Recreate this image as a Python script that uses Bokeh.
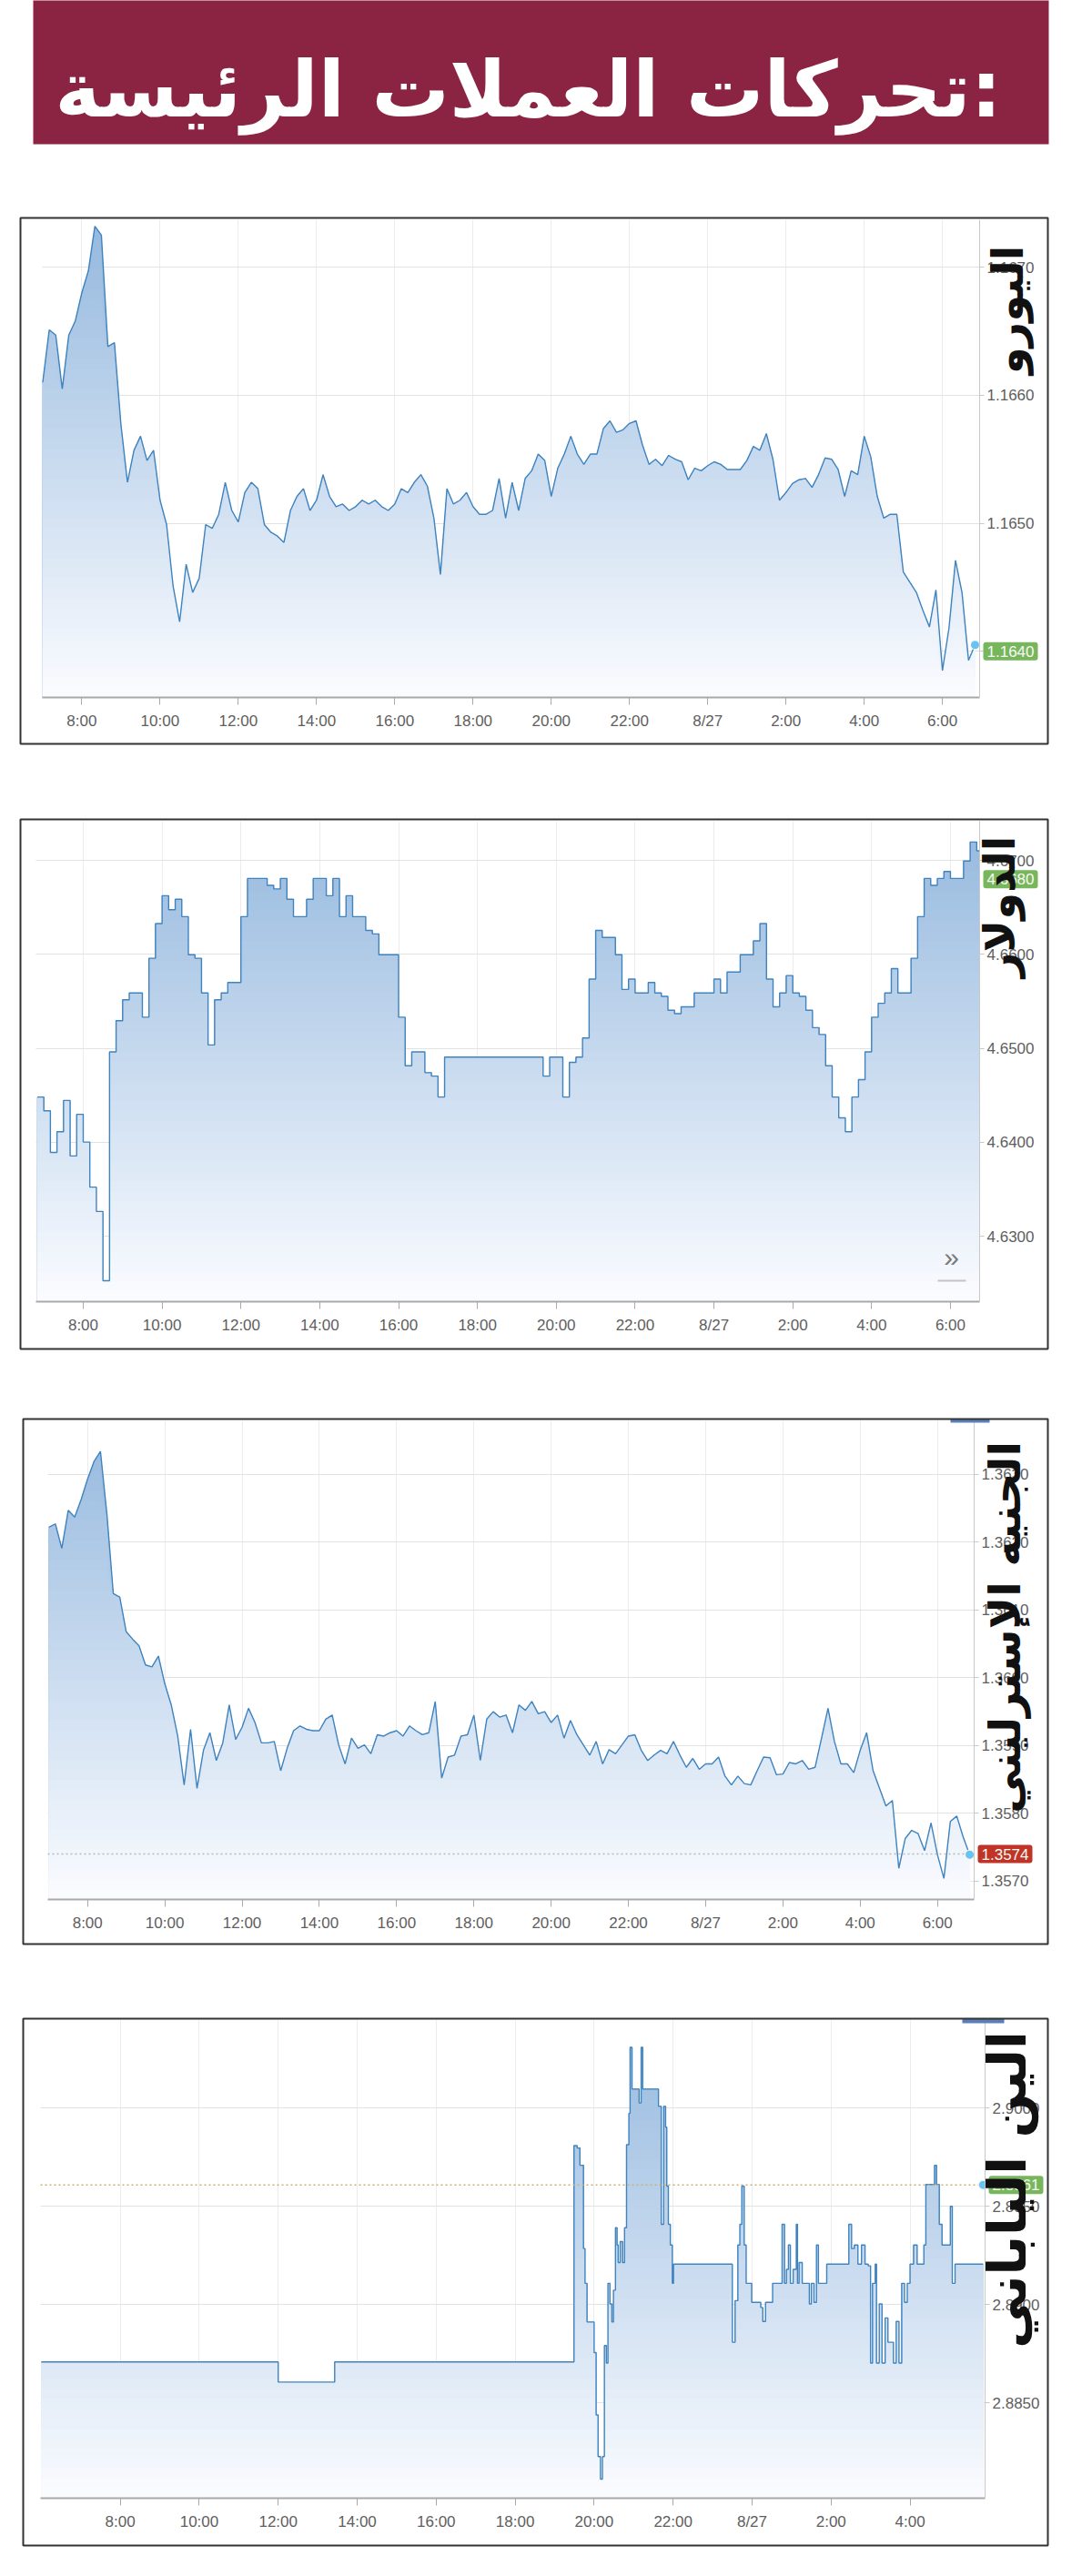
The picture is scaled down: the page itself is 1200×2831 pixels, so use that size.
import math
import numpy as np
from bokeh.plotting import figure
from bokeh.layouts import column
from bokeh.models import FixedTicker, PrintfTickFormatter, Label, BoxAnnotation, Range1d
from bokeh.embed import file_html
from bokeh.resources import INLINE

# ---------------- data ----------------
TITLE = "تحركات العملات الرئيسة:"
NAMES = ["اليورو", "الدولار", "الجنيه الإسترليني", "الين الياباني"]

X_TICKS = [8, 10, 12, 14, 16, 18, 20, 22, 24, 26, 28, 30]
X_LABELS = ["8:00", "10:00", "12:00", "14:00", "16:00", "18:00", "20:00",
            "22:00", "8/27", "2:00", "4:00", "6:00"]

# Euro: 10-minute samples starting 7:00 (8/26)
EUR_START_H = 7.0
EUR = [1.16610, 1.16651, 1.16647, 1.16605, 1.16647, 1.16658, 1.16680, 1.16697, 1.16732, 1.16725,
       1.16638, 1.16641, 1.16577, 1.16532, 1.16557, 1.16568, 1.16549, 1.16557, 1.16518, 1.16499,
       1.16451, 1.16423, 1.16468, 1.16446, 1.16457, 1.16499, 1.16496, 1.16507, 1.16532, 1.16510,
       1.16501, 1.16524, 1.16532, 1.16527, 1.16499, 1.16493, 1.16490, 1.16485, 1.16510, 1.16521,
       1.16527, 1.16510, 1.16518, 1.16538, 1.16521, 1.16513, 1.16515, 1.16510, 1.16513, 1.16518,
       1.16515, 1.16518, 1.16513, 1.16510, 1.16515, 1.16527, 1.16524, 1.16532, 1.16538, 1.16529,
       1.16504, 1.16460, 1.16527, 1.16515, 1.16518, 1.16524, 1.16513, 1.16507, 1.16507, 1.16510,
       1.16535, 1.16504, 1.16532, 1.16510, 1.16535, 1.16541, 1.16554, 1.16549, 1.16521, 1.16543,
       1.16554, 1.16568, 1.16554, 1.16546, 1.16554, 1.16554, 1.16574, 1.16580, 1.16571, 1.16573,
       1.16578, 1.16580, 1.16561, 1.16546, 1.16550, 1.16545, 1.16553, 1.16550, 1.16548, 1.16534,
       1.16543, 1.16541, 1.16545, 1.16548, 1.16546, 1.16542, 1.16542, 1.16542, 1.16549, 1.16560,
       1.16557, 1.16570, 1.16550, 1.16518, 1.16524, 1.16531, 1.16534, 1.16535, 1.16528, 1.16538,
       1.16551, 1.16550, 1.16542, 1.16521, 1.16541, 1.16538, 1.16568, 1.16552, 1.16521, 1.16504,
       1.16507, 1.16507, 1.16462, 1.16454, 1.16446, 1.16432, 1.16419, 1.16448, 1.16385, 1.16418,
       1.16471, 1.16446, 1.16393, 1.16405]
EUR_YTICKS = [1.1640, 1.1650, 1.1660, 1.1670]
EUR_LAST = 1.1640

# Dollar: 10-minute samples starting 6:50 (8/26)
USD_START_H = 6 + 50 / 60
USD = [4.64483, 4.64336, 4.63893, 4.64114, 4.64446, 4.63856, 4.64299, 4.64004, 4.63524, 4.63266,
       4.62528, 4.64963, 4.65295, 4.65517, 4.65590, 4.65590, 4.65332, 4.65959, 4.66328, 4.66624,
       4.66476, 4.66587, 4.66402, 4.65996, 4.65959, 4.65590, 4.65037, 4.65517, 4.65590, 4.65701,
       4.65701, 4.66402, 4.66808, 4.66808, 4.66808, 4.66734, 4.66697, 4.66808, 4.66587, 4.66402,
       4.66402, 4.66587, 4.66808, 4.66808, 4.66624, 4.66808, 4.66402, 4.66624, 4.66402, 4.66402,
       4.66255, 4.66218, 4.65996, 4.65996, 4.65996, 4.65332, 4.64815, 4.64963, 4.64963, 4.64742,
       4.64705, 4.64483, 4.64908, 4.64908, 4.64908, 4.64908, 4.64908, 4.64908, 4.64908, 4.64908,
       4.64908, 4.64908, 4.64908, 4.64908, 4.64908, 4.64908, 4.64908, 4.64705, 4.64908, 4.64908,
       4.64483, 4.64852, 4.64908, 4.65111, 4.65738, 4.66255, 4.66181, 4.66181, 4.65996, 4.65627,
       4.65738, 4.65590, 4.65590, 4.65701, 4.65590, 4.65554, 4.65406, 4.65369, 4.65443, 4.65443,
       4.65590, 4.65590, 4.65590, 4.65738, 4.65590, 4.65812, 4.65812, 4.65996, 4.65996, 4.66144,
       4.66328, 4.65738, 4.65443, 4.65590, 4.65775, 4.65590, 4.65554, 4.65406, 4.65221, 4.65148,
       4.64815, 4.64483, 4.64262, 4.64114, 4.64483, 4.64668, 4.64963, 4.65332, 4.65480, 4.65590,
       4.65849, 4.65590, 4.65590, 4.65959, 4.66402, 4.66808, 4.66734, 4.66808, 4.66882, 4.66808,
       4.66808, 4.66993, 4.67196, 4.67103]
USD_YTICKS = [4.63, 4.64, 4.65, 4.66, 4.67]
USD_LAST = 4.6680

# Sterling: 10-minute samples starting 7:00 (8/26)
GBP_START_H = 7.0
GBP = [1.36222, 1.36227, 1.36191, 1.36247, 1.36237, 1.36263, 1.36293, 1.36319, 1.36334, 1.36242,
       1.36124, 1.36119, 1.36068, 1.36057, 1.36047, 1.36019, 1.36016, 1.36032, 1.35991, 1.35960,
       1.35914, 1.35842, 1.35924, 1.35837, 1.35893, 1.35919, 1.35878, 1.35904, 1.35960, 1.35909,
       1.35927, 1.35955, 1.35934, 1.35904, 1.35904, 1.35906, 1.35863, 1.35896, 1.35922, 1.35929,
       1.35924, 1.35922, 1.35922, 1.35939, 1.35945, 1.35901, 1.35873, 1.35911, 1.35896, 1.35901,
       1.35888, 1.35916, 1.35914, 1.35919, 1.35922, 1.35914, 1.35929, 1.35922, 1.35916, 1.35919,
       1.35965, 1.35852, 1.35883, 1.35886, 1.35914, 1.35916, 1.35945, 1.35878, 1.35939, 1.35950,
       1.35942, 1.35945, 1.35919, 1.35960, 1.35952, 1.35965, 1.35947, 1.35950, 1.35934, 1.35945,
       1.35911, 1.35937, 1.35916, 1.35901, 1.35886, 1.35906, 1.35873, 1.35894, 1.35888, 1.35901,
       1.35914, 1.35916, 1.35893, 1.35878, 1.35886, 1.35893, 1.35888, 1.35906, 1.35886, 1.35868,
       1.35881, 1.35865, 1.35873, 1.35873, 1.35883, 1.35855, 1.35842, 1.35855, 1.35844, 1.35842,
       1.35863, 1.35883, 1.35882, 1.35857, 1.35858, 1.35875, 1.35873, 1.35878, 1.35865, 1.35868,
       1.35911, 1.35955, 1.35906, 1.35873, 1.35873, 1.35860, 1.35893, 1.35919, 1.35863, 1.35837,
       1.35811, 1.35819, 1.35719, 1.35763, 1.35775, 1.35770, 1.35745, 1.35786, 1.35739, 1.35704,
       1.35788, 1.35796, 1.35765, 1.35739]
GBP_YTICKS = [1.357, 1.358, 1.359, 1.360, 1.361, 1.362, 1.363]
GBP_LAST = 1.3574

# Yen: change points (hours since 8/26 0:00) and rate held until the next point
JPY_TIME = [6.00, 12.00, 13.43, 19.49, 19.57, 19.64, 19.73, 19.77, 19.82, 20.00,
            20.05, 20.10, 20.16, 20.21, 20.26, 20.31, 20.35, 20.40, 20.45, 20.49,
            20.54, 20.58, 20.61, 20.66, 20.72, 20.77, 20.82, 20.88, 20.91, 20.96,
            21.14, 21.19, 21.23, 21.63, 21.70, 21.76, 21.81, 21.84, 21.88, 21.93,
            21.98, 22.01, 23.50, 23.57, 23.64, 23.69, 23.74, 23.80, 23.85, 23.99,
            24.22, 24.27, 24.34, 24.52, 24.76, 24.82, 24.87, 24.92, 24.97, 25.04,
            25.12, 25.15, 25.19, 25.27, 25.45, 25.50, 25.57, 25.63, 25.68, 25.89,
            26.45, 26.52, 26.59, 26.68, 26.77, 26.86, 26.94, 27.00, 27.05, 27.12,
            27.15, 27.22, 27.29, 27.37, 27.44, 27.58, 27.65, 27.72, 27.79, 27.86,
            27.93, 28.00, 28.09, 28.18, 28.35, 28.40, 28.62, 28.67, 28.74, 28.81,
            29.02, 29.07, 29.14, 29.85]
JPY_RATE = [2.88709, 2.88606, 2.88709, 2.89810, 2.89798, 2.89710, 2.89286, 2.89109, 2.88912, 2.88756,
            2.88439, 2.88227, 2.88112, 2.88227, 2.88792, 2.88703, 2.89109, 2.89004, 2.88912, 2.89074,
            2.89392, 2.89304, 2.89215, 2.89321, 2.89215, 2.89392, 2.89815, 2.89974, 2.90310, 2.90098,
            2.90027, 2.90310, 2.90098, 2.90010, 2.89409, 2.90010, 2.89904, 2.89604, 2.89409, 2.89304,
            2.89109, 2.89207, 2.88809, 2.89021, 2.89304, 2.89409, 2.89604, 2.89304, 2.89109, 2.89012,
            2.88986, 2.88915, 2.89012, 2.89109, 2.89409, 2.89109, 2.89180, 2.89304, 2.89109, 2.89180,
            2.89409, 2.89109, 2.89215, 2.89109, 2.89004, 2.89109, 2.89012, 2.89304, 2.89109, 2.89207,
            2.89409, 2.89286, 2.89304, 2.89207, 2.89304, 2.89207, 2.89198, 2.88703, 2.89109, 2.89207,
            2.88703, 2.89004, 2.88703, 2.88933, 2.88809, 2.88703, 2.88915, 2.88703, 2.89109, 2.89012,
            2.89109, 2.89207, 2.89304, 2.89207, 2.89304, 2.89612, 2.89710, 2.89612, 2.89409, 2.89304,
            2.89501, 2.89109, 2.89207, 2.89207]
JPY_YTICKS = [2.885, 2.890, 2.895, 2.900]
JPY_LAST = 2.8961

# ---------------- styling ----------------
PAGE_W = 1184
LINE = "#3f83bf"
TOP_RGB = (148, 184, 222)
BOT_RGB = (251, 252, 255)
TICK_FONT = "'Liberation Sans Narrow', 'Liberation Sans', sans-serif"
AR_FONT = "'DejaVu Sans', sans-serif"


def grid_times(start, n):
    return start + np.arange(n) / 6.0


def step_xy(t, v, t_end=None):
    t = np.asarray(t, float)
    v = np.asarray(v, float)
    xs = np.repeat(t, 2)[1:]
    ys = np.repeat(v, 2)[:-1]
    if t_end is not None:
        xs = np.append(xs, t_end)
        ys = np.append(ys, v[-1])
    return xs, ys


def gradient_fill(p, xs, ys, y0, y1, n=48):
    levels = np.linspace(y0, y1, n + 1)
    for k in range(n, 0, -1):
        f = (k - 0.5) / n
        c = tuple(int(round(BOT_RGB[i] + (TOP_RGB[i] - BOT_RGB[i]) * f)) for i in range(3))
        p.varea(x=xs, y1=np.full(len(xs), y0), y2=np.minimum(ys, levels[k]),
                fill_color="#%02x%02x%02x" % c, fill_alpha=1.0)


def screen_box(l, r, t, b, **kw):
    return BoxAnnotation(left=l, right=r, top=t, bottom=b,
                         left_units="screen", right_units="screen",
                         top_units="screen", bottom_units="screen", **kw)


def base_figure(H, xr, yr, **kw):
    p = figure(width=PAGE_W, height=H, output_backend="svg", toolbar_location=None,
               title=None, x_range=Range1d(*xr), y_range=Range1d(*yr),
               min_border=0, min_border_left=0, min_border_right=0,
               min_border_top=0, min_border_bottom=0, **kw)
    p.outline_line_color = None
    p.background_fill_color = "white"
    p.border_fill_color = "white"
    return p


def make_panel(cfg):
    top, H = cfg["page_top"], cfg["height"]
    fl, ft, fr, fb = cfg["plot"]          # plot area, page pixels
    bl, bt, br, bb = cfg["border"]        # panel frame line, page pixels
    (x0, x1), (y0, y1) = cfg["xr"], cfg["yr"]
    kx = (fr - fl) / (x1 - x0)
    ky = (fb - ft) / (y1 - y0)
    X0 = x0 - (fl - 8) / kx
    X1 = x1 + (8 + PAGE_W - fr) / kx
    Y1 = y1 + (ft - top) / ky
    Y0 = y0 - (top + H - fb) / ky

    def sx(px):
        return px - 8

    def sy(py):
        return top + H - py

    p = base_figure(H, (X0, X1), (Y0, Y1), y_axis_location="right")

    xs, ys = cfg["xs"], cfg["ys"]
    gradient_fill(p, xs, ys, y0, y1)
    p.line(xs, ys, line_color=LINE, line_width=1.4)

    # x axis, at the bottom of the plot area
    xt = [t for t in X_TICKS if x0 < t < x1]
    xticker = FixedTicker(ticks=xt)
    ax = p.xaxis[0]
    ax.ticker = xticker
    ax.fixed_location = y0
    ax.bounds = (x0, x1)
    ax.major_label_overrides = {float(t): X_LABELS[X_TICKS.index(t)] for t in xt}
    ax.axis_line_color = "#a9a9a9"
    ax.axis_line_width = 2.2
    ax.major_tick_line_color = "#a9a9a9"
    ax.major_tick_out = 8
    ax.major_tick_in = 0
    ax.minor_tick_line_color = None
    ax.major_label_standoff = 8
    ax.major_label_text_font = TICK_FONT
    ax.major_label_text_font_size = "17px"
    ax.major_label_text_color = "#5e5e5e"

    # y axis, right side of the plot area
    yticker = FixedTicker(ticks=cfg["yticks"])
    ay = p.yaxis[0]
    ay.ticker = yticker
    ay.fixed_location = x1
    ay.bounds = (y0, y1)
    ay.formatter = PrintfTickFormatter(format="%.4f")
    ay.axis_line_color = "#c8c8c8"
    ay.major_tick_line_color = "#c8c8c8"
    ay.major_tick_out = 5
    ay.major_tick_in = 0
    ay.minor_tick_line_color = None
    ay.major_label_standoff = 3
    ay.major_label_text_font = TICK_FONT
    ay.major_label_text_font_size = "17px"
    ay.major_label_text_color = "#5e5e5e"

    gx, gy = p.xgrid[0], p.ygrid[0]
    gx.ticker = xticker
    gy.ticker = yticker
    gx.grid_line_color = "#ececec"
    gy.grid_line_color = "#e2e2e2"
    gx.cross_bounds = (y0, y1)
    gy.cross_bounds = (x0, x1)

    # dotted reference line of the last price, across the plot area only
    if cfg.get("ref_color"):
        p.line([x0, x1], [cfg["last"], cfg["last"]], line_color=cfg["ref_color"],
               line_dash="2 3", line_width=1.5)
    if cfg.get("marker_x") is not None:
        p.scatter([cfg["marker_x"]], [cfg["marker_y"]], size=10, fill_color="#69c3f1",
                  line_color="#ffffff", line_width=1)

    # price tag
    p.add_layout(Label(x=sx(fr) + 4, y=cfg["last"], x_units="screen", y_units="data",
                       text=cfg["tag_text"], text_align="left", text_baseline="middle",
                       text_font=TICK_FONT, text_font_size="17px", text_color="#f6f9f2",
                       background_fill_color=cfg["tag_color"], padding=4, border_radius=3))

    # vertical Arabic name
    cx, cy = cfg["name_center"]
    p.add_layout(Label(x=sx(cx), y=sy(cy), x_units="screen", y_units="screen",
                       text=cfg["name"], angle=math.pi / 2, text_align="center",
                       text_baseline="middle", text_font=AR_FONT,
                       text_font_size=cfg.get("name_size", "48px"),
                       text_font_style="bold", text_color="#111111"))

    for (l, t_, r, b, col) in cfg.get("bars", []):
        p.add_layout(screen_box(sx(l), sx(r), sy(t_), sy(b), fill_color=col,
                                fill_alpha=1.0, line_color=None))
    for (tx, ty, txt, size) in cfg.get("texts", []):
        p.add_layout(Label(x=sx(tx), y=sy(ty), x_units="screen", y_units="screen",
                           text=txt, text_align="center", text_baseline="middle",
                           text_font=TICK_FONT, text_font_size=size, text_color="#7a7a7a"))

    # panel frame line
    p.add_layout(screen_box(sx(bl), sx(br), sy(bt), sy(bb), fill_alpha=0.0,
                            line_color="#333333", line_alpha=1.0, line_width=2))
    return p


# ---------------- title ----------------
TITLE_H = 206
title = base_figure(TITLE_H, (0, 1), (0, 1), x_axis_type=None, y_axis_type=None)
title.grid.visible = False
title.add_layout(screen_box(44 - 8, 1160 - 8, TITLE_H + 2, TITLE_H - (166 - 8),
                            fill_color="#8b2342", fill_alpha=1.0, line_color=None))
title.add_layout(Label(x=588 - 8, y=TITLE_H - (106 - 8), x_units="screen", y_units="screen",
                       text=TITLE, text_align="center", text_baseline="alphabetic",
                       text_font=AR_FONT, text_font_size="85px", text_font_style="bold",
                       text_color="white"))

# ---------------- panels ----------------
eur_t = grid_times(EUR_START_H, len(EUR))
usd_t = grid_times(USD_START_H, len(USD))
gbp_t = grid_times(GBP_START_H, len(GBP))
n_j = min(len(JPY_TIME), len(JPY_RATE))
usd_x, usd_y = step_xy(usd_t, USD, usd_t[-1] + 1 / 12)
jpy_x, jpy_y = step_xy(JPY_TIME[:n_j], JPY_RATE[:n_j])

panels = [
    dict(page_top=214, height=652, plot=(54, 249, 1084, 774), border=(30, 247, 1159, 825),
         xr=(6.99, 30.95), yr=(1.16364, 1.16737), xs=eur_t, ys=np.array(EUR),
         yticks=EUR_YTICKS, last=EUR_LAST, tag_text="1.1640", tag_color="#78b65e",
         marker_x=eur_t[-1], marker_y=EUR[-1],
         name=NAMES[0], name_center=(1114, 348)),
    dict(page_top=866, height=659, plot=(47, 910, 1084, 1438), border=(30, 908, 1159, 1490),
         xr=(6.80, 30.74), yr=(4.62306, 4.67417), xs=usd_x, ys=usd_y,
         yticks=USD_YTICKS, last=USD_LAST, tag_text="4.6680", tag_color="#78b65e",
         marker_x=None,
         name=NAMES[1], name_center=(1105, 1004),
         bars=[(1038, 1414, 1069, 1416, "#c4c4c4")],
         texts=[(1053, 1389, "»", "30px")]),
    dict(page_top=1525, height=660, plot=(60, 1569, 1078, 2095), border=(33, 1567, 1159, 2144),
         xr=(6.97, 30.95), yr=(1.35673, 1.36379), xs=gbp_t, ys=np.array(GBP),
         yticks=GBP_YTICKS, last=GBP_LAST, tag_text="1.3574", tag_color="#bf3426",
         marker_x=gbp_t[-1], marker_y=GBP[-1], ref_color="#b9b9b9",
         name=NAMES[2], name_center=(1111, 1796),
         bars=[(1052, 1567, 1095, 1571, "#5b7fb8")]),
    dict(page_top=2185, height=638, plot=(52, 2228, 1090, 2753), border=(33, 2226, 1159, 2805),
         xr=(5.98, 29.90), yr=(2.88015, 2.90447), xs=jpy_x, ys=jpy_y,
         yticks=JPY_YTICKS, last=JPY_LAST, tag_text="2.8961", tag_color="#78b65e",
         marker_x=jpy_x[-1], marker_y=JPY_LAST, ref_color="#c9b078",
         name=NAMES[3], name_center=(1114, 2414), name_size="58px",
         bars=[(1065, 2226, 1111, 2231, "#5b7fb8")]),
]

figs = [title] + [make_panel(c) for c in panels]
layout = column(*figs, spacing=0)

open("out.html", "w").write(file_html(layout, INLINE))
